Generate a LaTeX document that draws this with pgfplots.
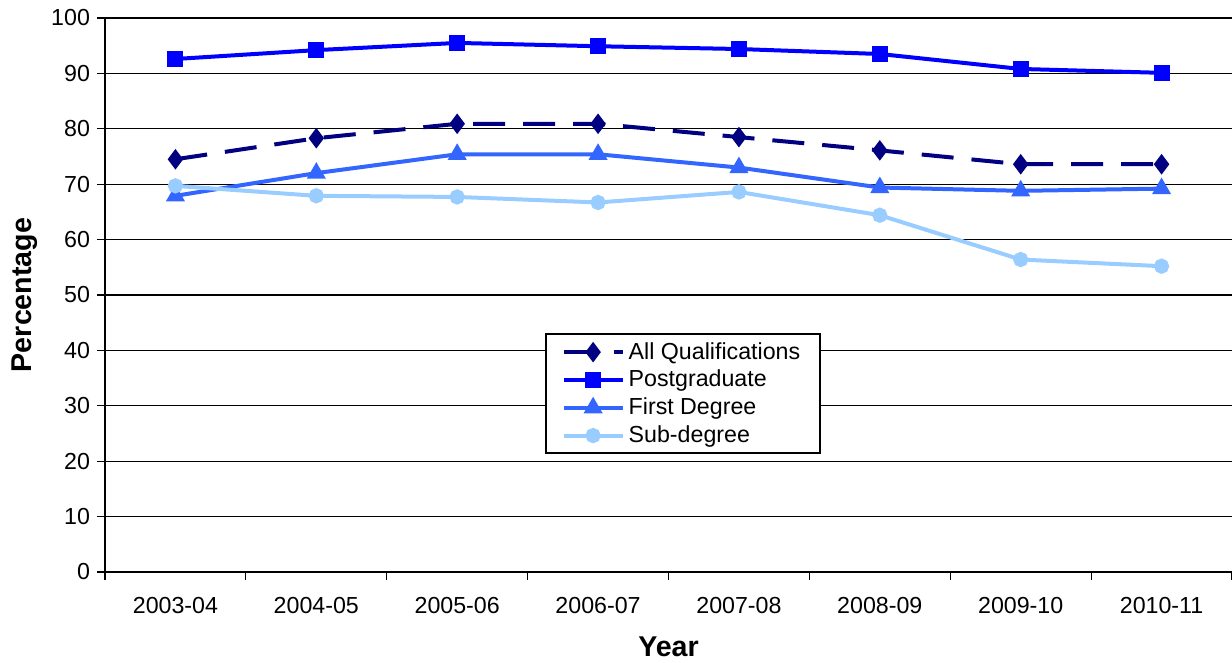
\documentclass[border=0pt]{standalone}
\usepackage{pgfplots}
\pgfplotsset{compat=1.18}
\usepackage{fontspec}
\setmainfont{Liberation Sans}
\definecolor{allq}{HTML}{000080}
\definecolor{postg}{HTML}{0000FF}
\definecolor{firstd}{HTML}{3366FF}
\definecolor{subd}{HTML}{99CCFF}
\begin{document}
\begin{tikzpicture}
\begin{axis}[
    scale only axis,
    width=563.5pt, height=277pt,
    xmin=-0.5, xmax=7.5,
    ymin=0, ymax=100,
    xtick={0,...,7},
    xticklabels={2003-04,2004-05,2005-06,2006-07,2007-08,2008-09,2009-10,2010-11},
    minor xtick={-0.5,0.5,...,7.5},
    ytick={0,10,...,100},
    major x tick style={draw=none},
    tick align=outside,
    major tick length=4pt,
    minor tick length=4pt,
    tick style={black, line width=0.6pt},
    axis x line*=bottom,
    axis y line*=left,
    axis line style={black, line width=0.8pt, -},
    ymajorgrids,
    grid style={black, line width=0.6pt},
    tick label style={font=\fontsize{11.6}{13}\selectfont},
    /pgf/number format/assume math mode=true,
    xticklabel style={yshift=-5pt},
    xlabel={\textbf{Year}},
    ylabel={\textbf{Percentage}},
    label style={font=\fontsize{14.3}{16}\selectfont},
    xlabel style={at={(axis description cs:0.5,0)}, anchor=center, yshift=-37.5pt},
    ylabel style={at={(axis description cs:0,0.5)}, anchor=center, yshift=40pt},
    legend style={at={(0.39,0.431)}, anchor=north west,
        draw=black, line width=1pt, fill=white,
        font=\fontsize{11.6}{13}\selectfont,
        inner xsep=8pt, inner ysep=2pt, row sep=0pt},
    legend cell align=left,
    legend image code/.code={
        \draw[mark repeat=2, mark phase=2, #1] plot coordinates {(0cm,0cm) (0.52cm,0cm) (1.04cm,0cm)};},
]
\addplot[allq, line width=2pt, dash pattern=on 16pt off 9pt, mark=diamond*, mark size=3.5pt, mark options={solid}]
 coordinates {(0,74.5)(1,78.3)(2,80.9)(3,80.9)(4,78.5)(5,76.1)(6,73.6)(7,73.6)};
\addplot[postg, line width=2pt, mark=square*, mark size=3pt]
 coordinates {(0,92.6)(1,94.2)(2,95.5)(3,94.9)(4,94.4)(5,93.5)(6,90.8)(7,90.1)};
\addplot[firstd, line width=2pt, mark=triangle*, mark size=3.5pt]
 coordinates {(0,67.9)(1,72.0)(2,75.4)(3,75.4)(4,73.0)(5,69.4)(6,68.8)(7,69.2)};
\addplot[subd, line width=2pt, mark=*, mark size=2.8pt]
 coordinates {(0,69.7)(1,67.9)(2,67.7)(3,66.7)(4,68.6)(5,64.4)(6,56.4)(7,55.2)};
\legend{All Qualifications, Postgraduate, First Degree, Sub-degree}
\end{axis}
\pgfresetboundingbox
\path ([xshift=-52.5pt,yshift=-45pt]current axis.south west) rectangle ([yshift=9pt]current axis.north east);
\end{tikzpicture}
\end{document}
